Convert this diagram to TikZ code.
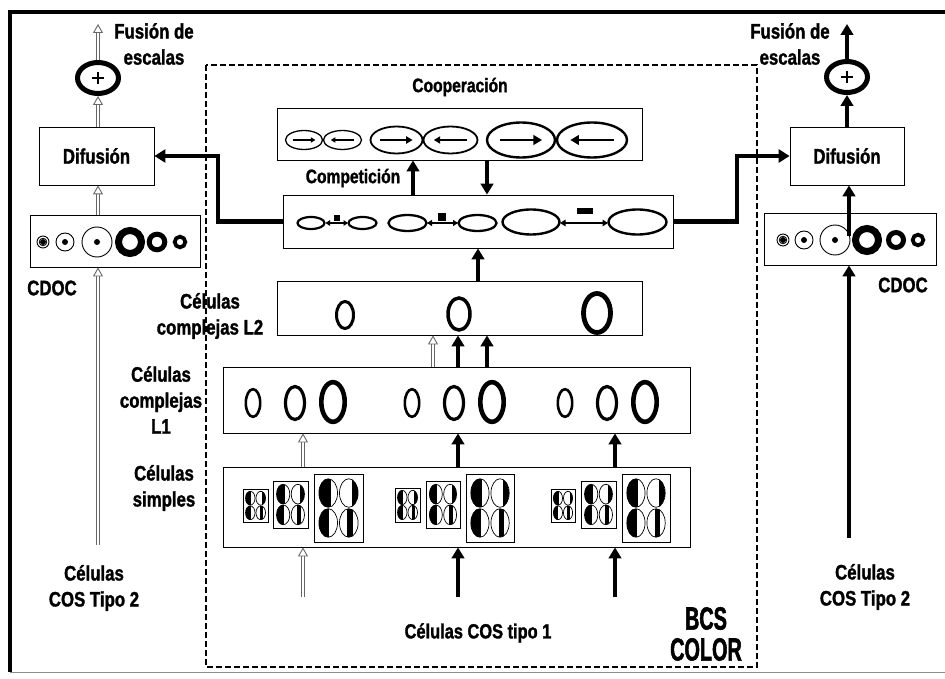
\documentclass[tikz,border=0pt]{standalone}
\usepackage{fontspec}
\setmainfont{Liberation Sans}[FakeStretch=0.8, BoldFeatures={FakeBold=1.4}]
\newfontfamily\bcsfont{Liberation Sans}[FakeStretch=0.62, BoldFeatures={FakeBold=1.6}]
\usetikzlibrary{arrows.meta,calc,shapes.geometric}

% half-filled ellipse: cx cy rx ry a b  (fill from cx+a*rx to cx+b*rx)
\newcommand\halfe[6]{%
  \begin{scope}
    \clip (#1,#2) ellipse [x radius=#3, y radius=#4];
    \fill ({#1+(#5)*(#3)},{#2-(#4)}) rectangle ({#1+(#6)*(#3)},{#2+(#4)});
  \end{scope}
  \draw[line width=0.7pt] (#1,#2) ellipse [x radius=#3, y radius=#4];}

% receptive field box: x1 y1 x2 y2
\newcommand\rfbox[4]{%
  \draw[line width=0.8pt] (#1,#2) rectangle (#3,#4);
  \pgfmathsetmacro\rfw{#3-#1}\pgfmathsetmacro\rfh{#4-#2}%
  \pgfmathsetmacro\rfxa{#1+0.29*\rfw}\pgfmathsetmacro\rfxb{#1+0.71*\rfw}%
  \pgfmathsetmacro\rfya{#2+0.28*\rfh}\pgfmathsetmacro\rfyb{#2+0.72*\rfh}%
  \pgfmathsetmacro\rfrx{0.19*\rfw}\pgfmathsetmacro\rfry{0.21*\rfh}%
  \halfe{\rfxa}{\rfya}{\rfrx}{\rfry}{-1}{0.25}
  \halfe{\rfxb}{\rfya}{\rfrx}{\rfry}{0.35}{1}
  \halfe{\rfxa}{\rfyb}{\rfrx}{\rfry}{-1}{0.1}
  \halfe{\rfxb}{\rfyb}{\rfrx}{\rfry}{-0.15}{0.4}}

% cooperation ellipse with inner arrow: cx cy rx ry lw dir
\newcommand\coopell[6]{%
  \draw[line width=#5pt] (#1,#2) ellipse [x radius=#3, y radius=#4];
  \draw[line width=#5pt, -{Triangle[length=0pt 3.6, width=0pt 4]}]
    ({#1-(#6)*0.62*(#3)},#2) -- ({#1+(#6)*0.62*(#3)},#2);}

% ring: cx cy rx ry lw
\newcommand\ring[5]{\draw[line width=#5pt] (#1,#2) ellipse [x radius=#3, y radius=#4];}

\begin{document}
\begin{tikzpicture}[x=1pt,y=-1pt,
  box/.style={draw, line width=0.8pt, inner sep=0pt},
  lbl/.style={font=\fontsize{21}{26}\selectfont\bfseries, align=center, inner sep=0pt},
  barrow/.style={line width=4.5pt, -{Triangle[length=11pt, width=12.5pt]}},
  conn/.style={line width=4.5pt, -{Triangle[length=11pt, width=13pt]}},
  hol/.style={draw=black!60, line width=0.8pt, double=white, double distance=2.6pt,
    -{Triangle[open, length=9pt, width=10pt, line width=0.9pt]}},
  sumnode/.style={draw, ellipse, line width=5pt, minimum width=41pt, minimum height=31pt, inner sep=0pt}
]
\useasboundingbox (0,0) rectangle (945,679);

% outer frame
\draw[line width=3.5pt] (10,672) -- (10,12) -- (945,12);
\draw[black!45, line width=1pt] (10,672) -- (945,672);

% BCS dashed frame
\draw[line width=1.4pt, dash pattern=on 6pt off 3pt] (206,65) rectangle (757,667);

% ---- boxes ----
\node[box, minimum width=365pt, minimum height=52pt] (coop) at (459.5,134) {};
\node[box, minimum width=390pt, minimum height=53pt] (comp) at (478,221.5) {};
\node[box, minimum width=365pt, minimum height=54pt] (l2) at (459.5,308) {};
\node[box, minimum width=467pt, minimum height=66pt] (l1) at (456.5,400) {};
\node[box, minimum width=467pt, minimum height=80pt] (simp) at (456.5,507) {};

\node[box, lbl, minimum width=115pt, minimum height=58pt] (difL) at (96.5,156) {Difusión};
\node[box, lbl, minimum width=114pt, minimum height=58pt] (difR) at (847,156) {Difusión};
\node[box, minimum width=170pt, minimum height=52pt] (cdocL) at (115,241) {};
\node[box, minimum width=172pt, minimum height=52pt] (cdocR) at (850,239) {};

\node[sumnode] (sumL) at (98,78) {};
\node[sumnode] (sumR) at (847,77) {};
\draw[line width=2.2pt] (sumL.center) ++(-6,0) -- ++(12,0) (sumL.center) ++(0,-6) -- ++(0,12);
\draw[line width=2.2pt] (sumR.center) ++(-6,0) -- ++(12,0) (sumR.center) ++(0,-6) -- ++(0,12);

% ---- labels ----
\node[lbl] (fusL) at (154,44) {Fusión de\\escalas};
\node[lbl] (fusR) at (790,44) {Fusión de\\escalas};
\node[lbl] (cdocLt) at (52,288) {CDOC};
\node[lbl] (cdocRt) at (903,285) {CDOC};
\node[lbl, font=\fontsize{19.5}{24}\selectfont\bfseries] (coopt) at (460,87) {Cooperación};
\node[lbl, font=\fontsize{19.5}{24}\selectfont\bfseries] (compt) at (353,178) {Competición};
\node[lbl] (l2t) at (210,316) {Células\\complejas L2};
\node[lbl] (l1t) at (161,400) {Células\\complejas\\L1};
\node[lbl] (simpt) at (164,488) {Células\\simples};
\node[lbl] (cos2L) at (94,588) {Células\\COS Tipo 2};
\node[lbl] (cos2R) at (865,587) {Células\\COS Tipo 2};
\node[lbl, font=\fontsize{20.5}{24}\selectfont\bfseries] (cos1) at (478,633) {Células COS tipo 1};
\node[font=\bcsfont\fontsize{32}{31}\selectfont\bfseries, align=center, inner sep=0pt] (bcs) at (706,634) {BCS\\COLOR};

% ---- CDOC circles ----
\foreach \cx/\r in {43/6, 65/9, 97/15}{
  \draw[line width=0.9pt] (\cx,242) circle [radius=\r];
  \fill (\cx,242) circle [radius=3];}
\draw[line width=0.8pt] (43,242) circle [radius=3.8];
\foreach \cx/\r/\w in {130/11.5/7, 157/7.8/5, 180/5.3/3.8}{
  \draw[line width=\w pt] (\cx,242) circle [radius=\r];}
\foreach \cx/\r in {783/6, 804/9, 835/15}{
  \draw[line width=0.9pt] (\cx,240) circle [radius=\r];
  \fill (\cx,240) circle [radius=3];}
\draw[line width=0.8pt] (783,240) circle [radius=3.8];
\foreach \cx/\r/\w in {867/11.5/7, 896/7.5/5, 918/5.3/3.8}{
  \draw[line width=\w pt] (\cx,240) circle [radius=\r];}

% ---- cooperation ellipses ----
\coopell{304}{140}{18.5}{9.5}{1.3}{1}
\coopell{342.5}{140}{19}{9.5}{1.3}{-1}
\coopell{396.5}{140}{26}{13.5}{1.8}{1}
\coopell{450.5}{140}{27}{13.5}{1.8}{-1}
\coopell{521}{140}{34}{17.5}{2.4}{1}
\coopell{592}{140}{35}{17.5}{2.4}{-1}

% ---- competition ellipses ----
\ring{311}{223}{13.5}{6}{2.2}
\ring{362.5}{223}{14}{6}{2.2}
\draw[line width=1.8pt, {Triangle[length=4.5pt,width=5.5pt]}-{Triangle[length=4.5pt,width=5.5pt]}] (325.5,223) -- (348,223);
\fill (334,215) rectangle (340,221);
\ring{407.5}{223}{19}{8}{2.3}
\ring{477.5}{223}{19}{8}{2.3}
\draw[line width=1.8pt, {Triangle[length=5pt,width=6pt]}-{Triangle[length=5pt,width=6pt]}] (427,223) -- (458,223);
\fill (438,213) rectangle (446,221);
\ring{531}{222}{28.5}{12.5}{2.4}
\ring{637.5}{222}{29}{12.5}{2.4}
\draw[line width=1.8pt, {Triangle[length=5.5pt,width=6.5pt]}-{Triangle[length=5.5pt,width=6.5pt]}] (560,223) -- (608,223);
\fill (577,208) rectangle (593,214);

% ---- L2 rings ----
\ring{345}{315}{8.5}{13.5}{3}
\ring{459}{314}{11}{16}{3.5}
\ring{597}{313}{13.5}{19.5}{4.8}

% ---- L1 rings ----
\foreach \gx in {0,159,312}{
  \ring{253+\gx}{403}{7.2}{13.8}{2.6}
  \ring{295+\gx}{403}{9.5}{16.5}{3.2}
  \ring{333+\gx}{402}{11.7}{19.8}{4.6}}

% ---- simple cells ----
\rfbox{243}{489}{268}{522}
\rfbox{273}{481}{308}{528}
\rfbox{314}{474}{363}{542}
\rfbox{395}{488}{420}{522}
\rfbox{426}{481}{460}{528}
\rfbox{466}{474}{514}{542}
\rfbox{551}{489}{575}{522}
\rfbox{581}{481}{616}{528}
\rfbox{622}{474}{670}{542}

% ---- coordinates ----
\coordinate (topL) at (98,24);
\coordinate (topR) at (847,24);
\coordinate (botL) at (98,545);
\coordinate (botR) at (849,538);
\coordinate (cdR) at (849,236);
\coordinate (k1) at (413,0);
\coordinate (k2) at (487,0);
\coordinate (k3) at (478,0);
\coordinate (m1) at (433,0);
\coordinate (m2) at (458,0);
\coordinate (s1) at (303,0);
\coordinate (s3) at (615,0);
\coordinate (b1) at (303,597);
\coordinate (b2) at (458,597);
\coordinate (b3) at (615,597);
\coordinate (tl) at (218,0);
\coordinate (tr) at (737,0);

% ---- left column arrows (hollow) ----
\draw[hol] (sumL.north) -- (topL);
\draw[hol] (difL.north -| sumL) -- (sumL.south);
\draw[hol] (cdocL.north -| sumL) -- (difL.south -| sumL);
\draw[hol] (botL) -- (botL |- cdocL.south);

% ---- right column arrows ----
\draw[barrow] (sumR.north) -- (topR);
\draw[barrow] (difR.north) -- (sumR.south);
\draw[barrow] (cdR) -- (cdR |- difR.south);
\draw[barrow] (botR) -- (botR |- cdocR.south);

% ---- central arrows ----
\draw[barrow] (comp.north -| k1) -- (coop.south -| k1);
\draw[barrow] (coop.south -| k2) -- (comp.north -| k2);
\draw[barrow] (l2.north -| k3) -- (comp.south -| k3);
\draw[hol] (l1.north -| m1) -- (l2.south -| m1);
\draw[barrow] (l1.north -| m2) -- (l2.south -| m2);
\draw[barrow] (l1.north -| k2) -- (l2.south -| k2);
\draw[hol] (simp.north -| s1) -- (l1.south -| s1);
\draw[barrow] (simp.north -| m2) -- (l1.south -| m2);
\draw[barrow] (simp.north -| s3) -- (l1.south -| s3);
\draw[hol] (b1) -- (b1 |- simp.south);
\draw[barrow] (b2) -- (b2 |- simp.south);
\draw[barrow] (b3) -- (b3 |- simp.south);

% ---- thick connectors to Difusión ----
\draw[conn] (comp.west) -- (comp.west -| tl) |- (difL.east);
\draw[conn] (comp.east) -- (comp.east -| tr) |- (difR.west);
\end{tikzpicture}
\end{document}
